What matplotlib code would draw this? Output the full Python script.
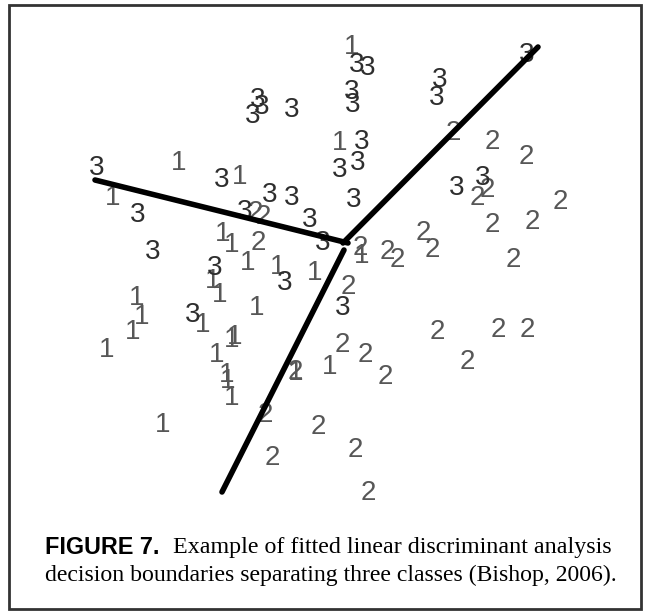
import matplotlib
matplotlib.use("Agg")
import matplotlib.pyplot as plt
from matplotlib.patches import Rectangle

# Class labels and positions (picture units, y grows downward)
class1_x = [179, 240, 113, 223, 232, 352, 340, 248, 278, 315, 213, 220, 137, 142,
            133, 107, 203, 257, 235, 232, 217, 227, 228, 232, 163, 330, 296, 362]
class1_y = [163, 177, 198, 234, 245, 47, 143, 263, 267, 273, 281, 295, 298, 317,
            332, 350, 325, 308, 337, 340, 355, 375, 381, 398, 425, 367, 373, 256]

class2_x = [453, 492, 526, 487, 477, 560, 532, 492, 423, 432, 513, 360, 387, 397,
            258, 255, 263, 348, 342, 365, 385, 295, 265, 318, 272, 355, 368, 437,
            498, 527, 467]
class2_y = [133, 142, 157, 190, 198, 202, 222, 225, 233, 250, 260, 248, 252, 260,
            243, 213, 217, 287, 345, 355, 377, 372, 415, 427, 458, 450, 493, 332,
            330, 330, 362]

class3_x = [97, 222, 138, 153, 258, 262, 253, 292, 357, 368, 352, 353, 362, 358,
            340, 354, 270, 292, 310, 323, 245, 527, 440, 437, 457, 483, 215, 285,
            343, 193]
class3_y = [168, 180, 215, 252, 100, 107, 116, 110, 65, 68, 92, 105, 142, 163,
            170, 200, 195, 198, 220, 243, 212, 55, 80, 98, 188, 178, 268, 283,
            308, 315]

# Decision boundaries (from the junction outwards)
boundary_a_x = [348, 95]
boundary_a_y = [243, 180]
boundary_b_x = [343, 538]
boundary_b_y = [243, 47]
boundary_c_x = [344, 222]
boundary_c_y = [250, 492]

caption_bold = "FIGURE 7."
caption_line1 = "Example of fitted linear discriminant analysis"
caption_line2 = "decision boundaries separating three classes (Bishop, 2006)."

W, H = 647, 612
fig = plt.figure(figsize=(W / 100, H / 100), dpi=100)
ax = fig.add_axes([0, 0, 1, 1])
ax.set_xlim(0, W)
ax.set_ylim(H, 0)
ax.axis("off")

digit_font = dict(family="Liberation Sans", fontsize=20, ha="center", va="center")
for xs, ys, lab, col in [(class1_x, class1_y, "1", "#575757"),
                         (class2_x, class2_y, "2", "#575757"),
                         (class3_x, class3_y, "3", "#2e2e2e")]:
    for x, y in zip(xs, ys):
        ax.text(x, y, lab, color=col, **digit_font)

for bx, by in [(boundary_a_x, boundary_a_y), (boundary_b_x, boundary_b_y),
               (boundary_c_x, boundary_c_y)]:
    ax.plot(bx, by, color="black", lw=4, solid_capstyle="round", zorder=5)

# frame around the whole figure
fig.patches.append(Rectangle((9 / W, 3 / H), 632 / W, 604 / H, transform=fig.transFigure,
                             fill=False, edgecolor="#333333", lw=2))

t1 = fig.text(45 / W, 1 - 548 / H, caption_bold, family="Liberation Sans",
              fontweight="bold", fontsize=16.8, va="center", ha="left")
fig.canvas.draw()
bb = t1.get_window_extent()
fig.text((bb.x1 + 14) / W, 1 - 548 / H, caption_line1, family="Liberation Serif",
         fontsize=17.3, va="center", ha="left")
fig.text(45 / W, 1 - 575 / H, caption_line2, family="Liberation Serif",
         fontsize=17.1, va="center", ha="left")

fig.savefig("out.png", dpi=100)
